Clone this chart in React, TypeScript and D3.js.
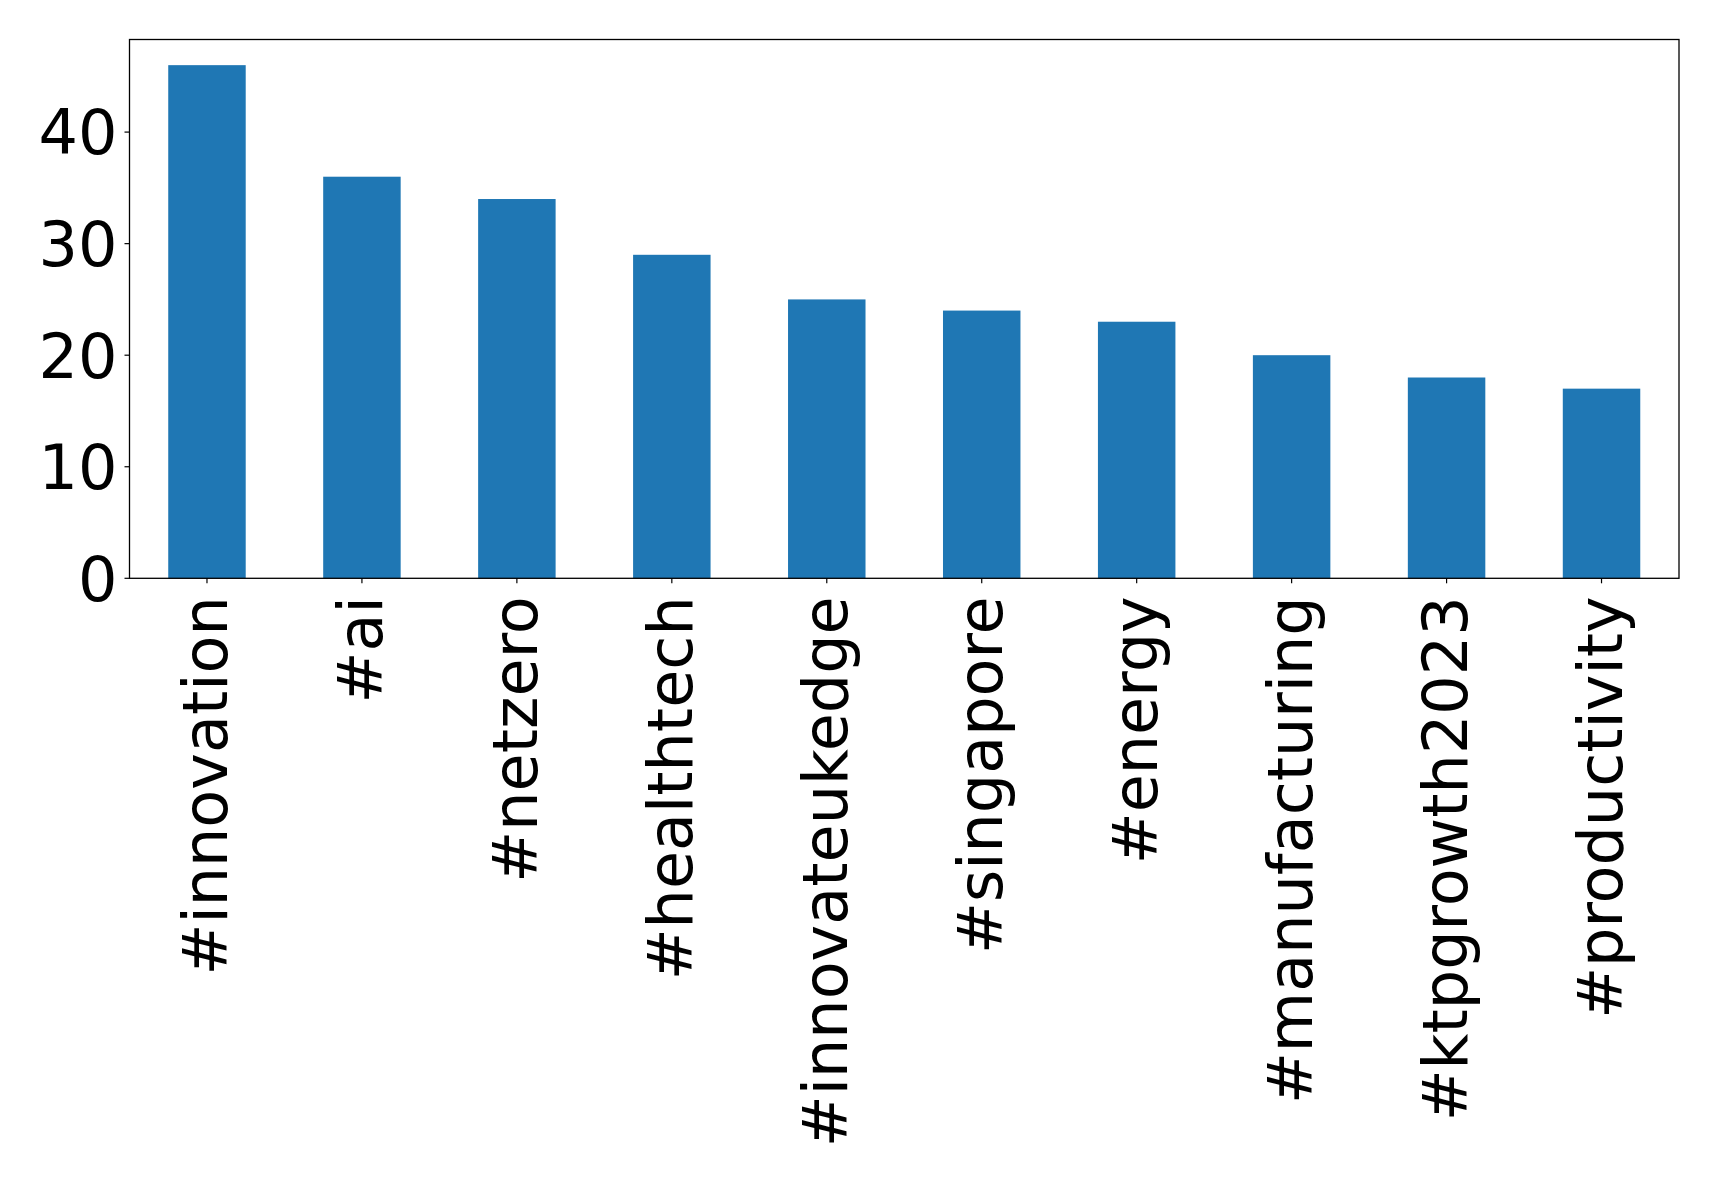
import React from "react";
import * as d3 from "d3";

const categories = [
  "#innovation",
  "#ai",
  "#netzero",
  "#healthtech",
  "#innovateukedge",
  "#singapore",
  "#energy",
  "#manufacturing",
  "#ktpgrowth2023",
  "#productivity",
];
const counts = [46, 36, 34, 29, 25, 24, 23, 20, 18, 17];
const yTicks = [0, 10, 20, 30, 40];

const W = 1719;
const H = 1183;
const left = 129.5;
const right = 1679;
const top = 39.5;
const bottom = 578.3;
const FONT = "DejaVu Sans";
const FS = 62;

export default function App() {
  const x = d3
    .scaleBand<string>()
    .domain(categories)
    .range([left, right])
    .paddingInner(0.5)
    .paddingOuter(0.25);
  const yMax = d3.max(counts)! * 1.05;
  const y = d3.scaleLinear().domain([0, yMax]).range([bottom, top]);
  const bw = x.bandwidth();

  return (
    <svg
      width={W}
      height={H}
      style={{ position: "absolute", left: 0, top: 0, background: "#fff" }}
      fontFamily={FONT}
    >
      <rect x={0} y={0} width={W} height={H} fill="#fff" />
      {categories.map((c, i) => (
        <rect
          key={c}
          x={x(c)!}
          y={y(counts[i])}
          width={bw}
          height={y(0) - y(counts[i])}
          fill="#1f77b4"
        />
      ))}
      <rect
        x={left}
        y={top}
        width={right - left}
        height={bottom - top}
        fill="none"
        stroke="#000"
        strokeWidth={1.3}
      />
      {yTicks.map((t) => (
        <g key={t} transform={`translate(0,${y(t)})`}>
          <line x1={left - 5} x2={left} stroke="#000" strokeWidth={1.2} />
          <text
            x={left - 12}
            dy="0.36em"
            textAnchor="end"
            fontSize={FS}
            fill="#000"
          >
            {t}
          </text>
        </g>
      ))}
      {categories.map((c) => {
        const cx = x(c)! + bw / 2;
        return (
          <g key={c}>
            <line
              x1={cx}
              x2={cx}
              y1={bottom}
              y2={bottom + 5}
              stroke="#000"
              strokeWidth={1.2}
            />
            <text
              transform={`translate(${cx},${bottom + 18}) rotate(-90)`}
              dy="0.33em"
              textAnchor="end"
              fontSize={FS}
              fill="#000"
            >
              {c}
            </text>
          </g>
        );
      })}
    </svg>
  );
}
